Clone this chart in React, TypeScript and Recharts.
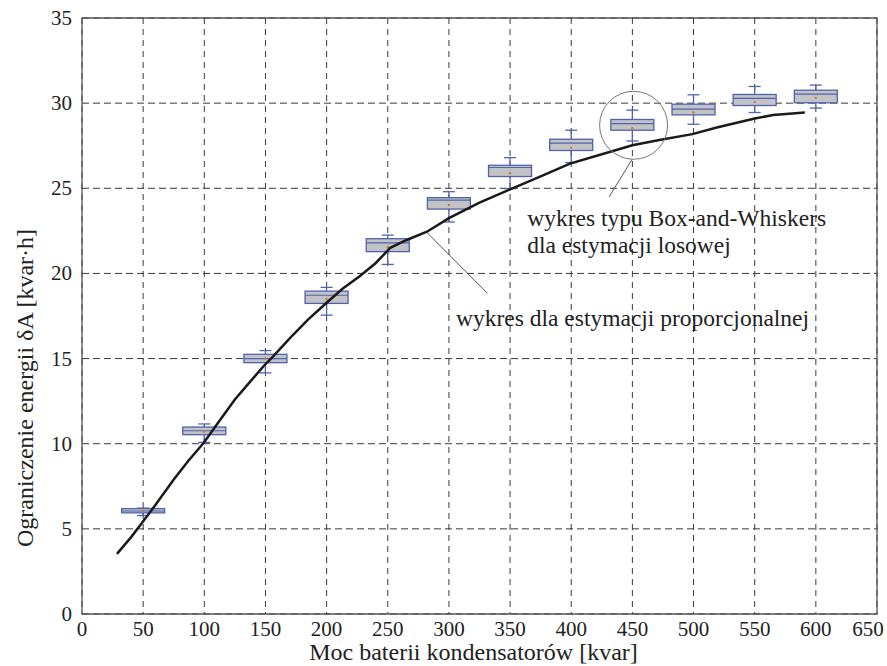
import React from 'react';
import {
  ComposedChart, XAxis, YAxis, CartesianGrid, Bar, Scatter,
  ReferenceArea, ReferenceLine, ReferenceDot, Label,
} from 'recharts';

// Battery power categories [kvar]
const positions = [50, 100, 150, 200, 250, 300, 350, 400, 450, 500, 550, 600];
// Box-and-whisker statistics (random estimation)
const whiskerLow = [5.78, 10.08, 14.16, 17.55, 20.53, 23.02, 24.98, 26.51, 27.78, 28.76, 29.45, 29.71];
const q1 = [5.94, 10.53, 14.76, 18.24, 21.28, 23.78, 25.69, 27.22, 28.41, 29.31, 29.86, 30.02];
const medians = [6.05, 10.76, 15.0, 18.72, 21.8, 24.31, 26.22, 27.65, 28.8, 29.65, 30.28, 30.53];
const q3 = [6.19, 10.98, 15.25, 18.96, 22.04, 24.45, 26.35, 27.88, 29.04, 29.94, 30.51, 30.76];
const whiskerHigh = [6.22, 11.16, 15.47, 19.18, 22.25, 24.8, 26.8, 28.41, 29.59, 30.49, 30.98, 31.06];
const means = [6.05, 10.7, 15.0, 18.5, 21.55, 24.02, 25.88, 27.39, 28.53, 29.45, 30.06, 30.31];

// Proportional estimation curve
const curveX = [28.6, 40, 48.5, 60, 75, 87, 99.4, 112, 125, 137, 148.4, 156.5, 170, 185, 200, 213, 227, 240, 252, 265, 282, 300, 325, 350, 375, 399, 425, 450, 472, 499, 519, 550, 565, 591];
const curveY = [3.53, 4.5, 5.3, 6.4, 7.9, 9.0, 10.04, 11.3, 12.6, 13.6, 14.55, 15.14, 16.2, 17.3, 18.28, 19.1, 19.84, 20.6, 21.5, 21.95, 22.45, 23.25, 24.16, 24.94, 25.7, 26.45, 27.0, 27.53, 27.84, 28.18, 28.57, 29.1, 29.3, 29.45];

const xTicks = [0, 50, 100, 150, 200, 250, 300, 350, 400, 450, 500, 550, 600, 650];
const yTicks = [0, 5, 10, 15, 20, 25, 30, 35];

const xTitle = 'Moc baterii kondensatorów [kvar]';
const yTitle = 'Ograniczenie energii δA [kvar·h]';
const noteBox1 = 'wykres typu Box-and-Whiskers';
const noteBox2 = 'dla estymacji losowej';
const noteLine = 'wykres dla estymacji proporcjonalnej';

const boxData = positions.map((x, i) => ({
  x,
  low: whiskerLow[i],
  q1: q1[i],
  med: medians[i],
  q3: q3[i],
  high: whiskerHigh[i],
  mean: means[i],
}));
const curveData = curveX.map((x, i) => ({ x, y: curveY[i] }));

const FONT = 'Liberation Serif';
const BLUE = '#4f63b0';
const BOX_W = 43;
const CAP = 6;

const BoxShape = (props: any) => {
  const { x, y, width, height, payload } = props;
  if (!payload) return <g />;
  const top = Math.min(y, y + height);
  const bot = Math.max(y, y + height);
  const { low, high } = payload;
  const px = (v: number) => top + ((bot - top) * (high - v)) / (high - low);
  const cx = x + width / 2;
  const yQ1 = px(payload.q1);
  const yQ3 = px(payload.q3);
  const yMed = px(payload.med);
  const yMean = px(payload.mean);
  const bx = cx - BOX_W / 2;
  return (
    <g>
      <line x1={cx} x2={cx} y1={top} y2={bot} stroke={BLUE} strokeWidth={1.3} />
      <line x1={cx - CAP} x2={cx + CAP} y1={top} y2={top} stroke={BLUE} strokeWidth={1.3} />
      <line x1={cx - CAP} x2={cx + CAP} y1={bot} y2={bot} stroke={BLUE} strokeWidth={1.3} />
      <rect x={bx} y={yQ3} width={BOX_W} height={yQ1 - yQ3} fill="#c3c3c5" stroke={BLUE} strokeWidth={1.3} />
      <line x1={bx} x2={bx + BOX_W} y1={yMed} y2={yMed} stroke={BLUE} strokeWidth={1.2} />
      <circle cx={cx} cy={yMean} r={1.2} fill="#d0783a" />
    </g>
  );
};

const noteLabel = (lines: string[]) => (p: any) => {
  const vb = p.viewBox || {};
  const x0 = vb.x + (vb.width || 0) / 2;
  const y0 = vb.y + (vb.height || 0) / 2;
  return (
    <text x={x0} y={y0} style={{ fontFamily: FONT }} fontSize={23.5} fill="#222" textAnchor="start">
      {lines.map((t, i) => (
        <tspan key={i} x={x0} dy={i === 0 ? 0 : 26.5}>{t}</tspan>
      ))}
    </text>
  );
};

const XTick = (p: any) => {
  const { x, y, payload } = p;
  const shift = payload.value === 650 ? -9 : 0;
  return (
    <text x={x + shift} y={y} dy={15} textAnchor="middle" style={{ fontFamily: FONT }} fontSize={21} fill="#222">
      {payload.value}
    </text>
  );
};

const YTick = (p: any) => {
  const { x, y, payload } = p;
  return (
    <text x={x} y={y} dy={7} textAnchor="end" style={{ fontFamily: FONT }} fontSize={21} fill="#222">
      {payload.value}
    </text>
  );
};

export default function App() {
  return (
    <div style={{ position: 'absolute', left: 0, top: 0, width: 887, height: 666, background: '#fff', fontFamily: FONT }}>
      <ComposedChart
        width={887}
        height={666}
        data={boxData}
        margin={{ top: 18, right: 10, left: 0, bottom: 0 }}
      >
        <CartesianGrid horizontal={true} vertical={false} stroke="#3a3a3a" strokeDasharray="7 4" />
        <CartesianGrid horizontal={false} vertical={true} stroke="#3a3a3a" strokeDasharray="6 5" />
        <XAxis
          dataKey="x"
          type="number"
          domain={[0, 650]}
          ticks={xTicks}
          interval={0}
          axisLine={false}
          tickLine={false}
          tickSize={0}
          tickMargin={7}
          height={52}
          tick={<XTick />}
        >
          <Label
            content={(p: any) => {
              const vb = p.viewBox;
              return (
                <text x={vb.x + vb.width / 2 - 6} y={vb.y + 46} textAnchor="middle" style={{ fontFamily: FONT }} fontSize={24} fill="#222">
                  {xTitle}
                </text>
              );
            }}
          />
        </XAxis>
        <YAxis
          type="number"
          domain={[0, 35]}
          ticks={yTicks}
          interval={0}
          axisLine={false}
          tickLine={false}
          tickSize={0}
          tickMargin={10}
          width={82}
          tick={<YTick />}
        >
          <Label
            content={(p: any) => {
              const vb = p.viewBox;
              const cx = vb.x + 25;
              const cy = vb.y + vb.height / 2 + 72;
              return (
                <text x={cx} y={cy} textAnchor="middle" dominantBaseline="central" style={{ fontFamily: FONT }} fontSize={24} fill="#222" transform={`rotate(-90 ${cx} ${cy})`}>
                  {yTitle}
                </text>
              );
            }}
          />
        </YAxis>
        <ReferenceArea x1={0} x2={650} y1={0} y2={35} fill="none" stroke="#555" strokeWidth={1.3} ifOverflow="visible" />
        <Bar
          dataKey={(d: any) => [d.low, d.high]}
          barSize={43}
          shape={BoxShape}
          isAnimationActive={false}
        />
        <Scatter
          data={curveData}
          dataKey="y"
          line={{ stroke: '#1a1a1a', strokeWidth: 2.5 }}
          shape={() => <g />}
          isAnimationActive={false}
        />
        <ReferenceLine segment={[{ x: 282, y: 22.4 }, { x: 331.7, y: 18.82 }]} stroke="#444" strokeWidth={0.9} />
        <ReferenceLine segment={[{ x: 449.8, y: 26.7 }, { x: 431, y: 24.5 }]} stroke="#444" strokeWidth={0.9} />
        <ReferenceDot x={451} y={28.7} r={34} fill="none" stroke="#777" strokeWidth={1} />
        <ReferenceDot x={364} y={22.78} r={0} fill="none" stroke="none" label={noteLabel([noteBox1, noteBox2])} />
        <ReferenceDot x={305.8} y={16.9} r={0} fill="none" stroke="none" label={noteLabel([noteLine])} />
      </ComposedChart>
    </div>
  );
}
